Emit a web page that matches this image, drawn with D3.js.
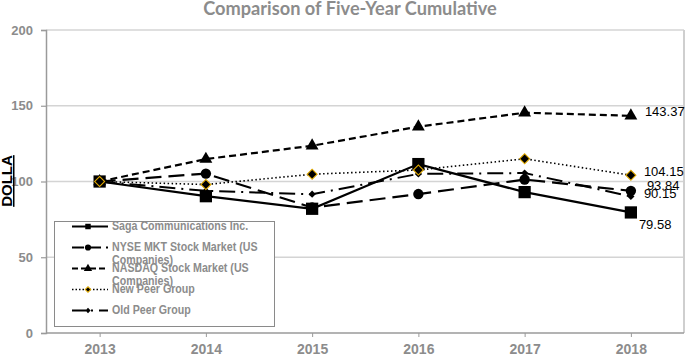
<!DOCTYPE html>
<html><head><meta charset="utf-8">
<script src="https://cdn.jsdelivr.net/npm/d3@7"></script>
<style>html,body{margin:0;padding:0;background:#fff;overflow:hidden}</style>
</head><body>
<svg id="c" width="686" height="354"></svg>
<script>
const years = ["2013","2014","2015","2016","2017","2018"];
const yTicks = [0, 50, 100, 150, 200];
const saga   = [100, 90.3, 82.0, 111.5, 93.0, 79.58];
const nyse   = [100, 105.2, 82.8, 91.7, 101.3, 93.84];
const nasdaq = [100, 114.8, 123.6, 136.2, 145.4, 143.37];
const newPeer= [100, 98.0, 104.8, 107.6, 115.0, 104.15];
const oldPeer= [100, 93.8, 91.6, 105.0, 105.6, 90.15];
const seriesNames = ["Saga Communications Inc.", "NYSE MKT Stock Market (US Companies)", "NASDAQ Stock Market (US Companies)", "New Peer Group", "Old Peer Group"];
const titleText = "Comparison of Five-Year Cumulative";
const yLabel = "DOLLA";

const svg = d3.select("#c");
const x = d3.scalePoint().domain(years).range([46.5, 684]).padding(0.5);
const y = d3.scaleLinear().domain([0, 200]).range([333, 30]);

const gray = "#8c8c8c";
// gridlines
svg.append("g").selectAll("line").data(yTicks.filter(d => d > 0)).join("line")
  .attr("x1", 46).attr("x2", 684).attr("y1", d => y(d)).attr("y2", d => y(d))
  .attr("stroke", "#d4d4d4").attr("stroke-width", 1.5);
// right border
svg.append("line").attr("x1", 684).attr("x2", 684).attr("y1", y(200)).attr("y2", y(0))
  .attr("stroke", "#cfcfcf").attr("stroke-width", 2);

// y axis
const yAxis = svg.append("g").attr("transform", "translate(46,0)")
  .call(d3.axisLeft(y).tickValues(yTicks).tickSize(5).tickPadding(8));
yAxis.select(".domain").attr("stroke", "#9a9a9a").attr("stroke-width", 1.5);
yAxis.selectAll(".tick line").attr("stroke", "#9a9a9a").attr("stroke-width", 1.2);
yAxis.selectAll("text").attr("fill", gray).attr("font-family", "Liberation Sans, Arial")
  .attr("font-weight", "bold").attr("font-size", 13);

// x axis
const xAxis = svg.append("g").attr("transform", "translate(0,333)")
  .call(d3.axisBottom(x).tickSize(4).tickPadding(7).tickSizeOuter(0));
xAxis.select(".domain").attr("stroke", "#9a9a9a").attr("stroke-width", 1.5)
  .attr("d", "M46,0H684");
xAxis.selectAll(".tick line").attr("stroke", "#9a9a9a");
xAxis.selectAll("text").attr("fill", gray).attr("font-family", "Liberation Sans, Arial")
  .attr("font-weight", "bold").attr("font-size", 14);

// title
svg.append("text").attr("x", 350).attr("y", 14.5).attr("text-anchor", "middle")
  .attr("font-family", "Lato, Open Sans, sans-serif").attr("font-weight", "bold")
  .attr("font-size", 18.2).attr("fill", gray).text(titleText);

// y label
svg.append("text").attr("transform", "translate(12,181) rotate(-90)")
  .attr("text-anchor", "middle").attr("font-family", "Liberation Sans, Arial")
  .attr("font-weight", "bold").attr("font-size", 15).attr("fill", "#000")
  .attr("text-decoration", "underline").text(yLabel);

const line = d3.line().x((d, i) => x(years[i])).y(d => y(d));
const styles = [
  {data: saga, dash: null, w: 2.2, marker: "square"},
  {data: nyse, dash: "16,7", w: 2.2, marker: "circle"},
  {data: nasdaq, dash: "7,4", w: 2.2, marker: "triangle"},
  {data: oldPeer, dash: "16,6,2,6", w: 2, marker: "smalldiamond"},
  {data: newPeer, dash: "1.5,2.5", w: 1.6, marker: "diamond"}
];
const symbolTypes = {square: d3.symbolSquare, circle: d3.symbolCircle, triangle: d3.symbolTriangle, diamond: d3.symbolSquare, smalldiamond: d3.symbolSquare};
const symbolSizes = {square: 150, circle: 85, triangle: 72, diamond: 50, smalldiamond: 26};
const rot = m => (m === "diamond" || m === "smalldiamond") ? " rotate(45)" : "";
styles.forEach(s => {
  svg.append("path").datum(s.data).attr("d", line).attr("fill", "none")
    .attr("stroke", "#000").attr("stroke-width", s.w)
    .attr("stroke-dasharray", s.dash);
});
styles.forEach(s => {
  svg.append("g").selectAll("path").data(s.data).join("path")
    .attr("transform", (d, i) => `translate(${x(years[i])},${y(d)})${rot(s.marker)}`)
    .attr("d", d3.symbol().type(symbolTypes[s.marker]).size(symbolSizes[s.marker])())
    .attr("fill", "#000")
    .attr("stroke", s.marker === "diamond" ? "#e0a800" : "none")
    .attr("stroke-width", 1.1);
});

// end labels
const lastIdx = years.length - 1;
const labelSpecs = [
  {v: nasdaq[lastIdx], dx: 14, dy: -3},
  {v: newPeer[lastIdx], dx: 13, dy: -3},
  {v: nyse[lastIdx], dx: 16, dy: -4},
  {v: oldPeer[lastIdx], dx: 13, dy: -2},
  {v: saga[lastIdx], dx: 8, dy: 13}
];
svg.append("g").selectAll("text").data(labelSpecs).join("text")
  .attr("x", d => x(years[lastIdx]) + d.dx).attr("y", d => y(d.v) + d.dy)
  .attr("dominant-baseline", "middle")
  .attr("font-family", "Liberation Sans, Arial").attr("font-size", 13).attr("fill", "#000")
  .text(d => d.v.toFixed(2));

// legend
const lg = svg.append("g");
lg.append("rect").attr("x", 54.5).attr("y", 221.5).attr("width", 220).attr("height", 105)
  .attr("fill", "#fff").attr("stroke", "#8a8a8a").attr("stroke-width", 1);
const legendY = [226.5, 247.5, 268.5, 289.5, 310.5];
const legendStyles = [
  {dash: null, w: 2.2, marker: "square", size: 30},
  {dash: "12,5", w: 2.2, marker: "circle", size: 30},
  {dash: "6,3", w: 2.2, marker: "triangle", size: 30},
  {dash: "1.5,2", w: 1.6, marker: "diamond", size: 16},
  {dash: "14,5,2,6", w: 2, marker: "smalldiamond", size: 14}
];
seriesNames.forEach((name, i) => {
  const st = legendStyles[i];
  const yy = legendY[i];
  lg.append("line").attr("x1", 72).attr("x2", 108).attr("y1", yy).attr("y2", yy)
    .attr("stroke", "#000").attr("stroke-width", st.w).attr("stroke-dasharray", st.dash);
  lg.append("path").attr("transform", `translate(88,${yy})${rot(st.marker)}`)
    .attr("d", d3.symbol().type(symbolTypes[st.marker]).size(st.size)())
    .attr("fill", "#000").attr("stroke", st.marker === "diamond" ? "#e0a800" : "none").attr("stroke-width", 1);
  const t = lg.append("g").attr("transform", `translate(112,${yy}) scale(0.82,1)`)
    .append("text").attr("x", 0).attr("y", 0).attr("dominant-baseline", "middle")
    .attr("font-family", "Liberation Sans, Arial").attr("font-weight", "bold")
    .attr("font-size", 13).attr("fill", gray);
  const m = name.match(/^(.*) (\(US Companies\))$/);
  if (m) {
    t.append("tspan").attr("x", 0).text(m[1] + " (US");
    t.append("tspan").attr("x", 0).attr("dy", 13).text("Companies)");
  } else {
    t.text(name);
  }
});
</script>
</body></html>
